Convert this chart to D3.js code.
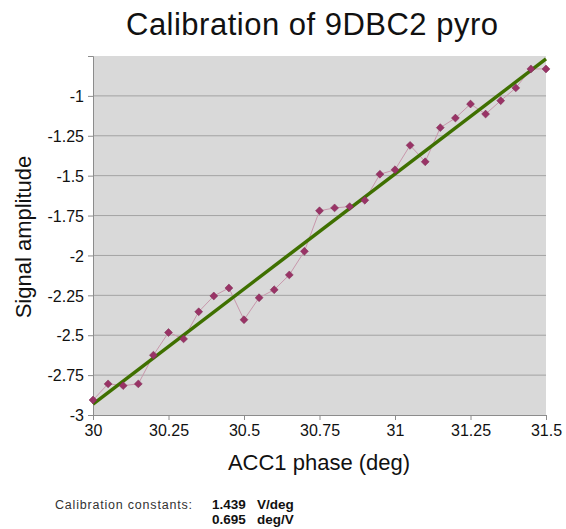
<!DOCTYPE html>
<html>
<head>
<meta charset="utf-8">
<script src="https://cdn.jsdelivr.net/npm/d3@7"></script>
<style>
  body { margin: 0; background: #fff; }
  text { font-family: "Liberation Sans", Arial, Helvetica, sans-serif; }
</style>
</head>
<body>
<svg id="chart" width="566" height="529"></svg>
<script>
// phase readings (deg) and measured signal
const phase = [30, 30.05, 30.1, 30.15, 30.2, 30.25, 30.3, 30.35, 30.4, 30.45,
  30.5, 30.55, 30.6, 30.65, 30.7, 30.75, 30.8, 30.85, 30.9, 30.95,
  31, 31.05, 31.1, 31.15, 31.2, 31.25, 31.3, 31.35, 31.4, 31.45, 31.5];
const signal = [-2.906, -2.805, -2.816, -2.805, -2.625, -2.483, -2.523, -2.353, -2.254, -2.204,
  -2.403, -2.265, -2.215, -2.122, -1.974, -1.720, -1.702, -1.694, -1.654, -1.491,
  -1.463, -1.310, -1.413, -1.199, -1.139, -1.051, -1.114, -1.030, -0.950, -0.831, -0.831];

const xTicks = [30, 30.25, 30.5, 30.75, 31, 31.25, 31.5];
const yTicks = [-3, -2.75, -2.5, -2.25, -2, -1.75, -1.5, -1.25, -1];
const constants = [["1.439", "V/deg"], ["0.695", "deg/V"]];

const svg = d3.select("#chart");
const x = d3.scaleLinear().domain([30, 31.5]).range([93, 546]);
const y = d3.scaleLinear().domain([-3, -0.75]).range([415, 56]);

// plot background
svg.append("rect")
  .attr("x", x(30)).attr("y", y(-0.75))
  .attr("width", x(31.5) - x(30)).attr("height", y(-3) - y(-0.75))
  .attr("fill", "#d9d9d9");

// gridlines
svg.append("g").selectAll("line").data(yTicks.slice(1)).join("line")
  .attr("x1", x(30)).attr("x2", x(31.5))
  .attr("y1", d => y(d)).attr("y2", d => y(d))
  .attr("stroke", "#a3a3a3").attr("stroke-width", 1);

// axes
const fmt = d => String(d);
const yAxis = svg.append("g").attr("transform", `translate(${x(30)},0)`)
  .call(d3.axisLeft(y).tickValues(yTicks).tickFormat(fmt).tickSize(5).tickPadding(4));
const xAxis = svg.append("g").attr("transform", `translate(0,${y(-3)})`)
  .call(d3.axisBottom(x).tickValues(xTicks).tickFormat(fmt).tickSize(5).tickPadding(4));
[xAxis, yAxis].forEach(a => {
  a.select(".domain").attr("stroke", "#8c8c8c");
  a.selectAll(".tick line").attr("stroke", "#8c8c8c");
  a.selectAll(".tick text").attr("fill", "#111").attr("font-size", 16)
    .style("font-family", '"Liberation Sans", Arial, sans-serif');
});
yAxis.selectAll(".tick text").attr("dy", "0.36em");
xAxis.selectAll(".tick text").attr("dy", "0.72em");

const pts = phase.map((p, i) => [p, signal[i]]);

// connecting line
svg.append("path").datum(pts)
  .attr("fill", "none").attr("stroke", "#c898ac").attr("stroke-width", 1)
  .attr("d", d3.line().x(d => x(d[0])).y(d => y(d[1])));

// least squares trend
const mx = d3.mean(phase), my = d3.mean(signal);
const slope = d3.sum(pts, d => (d[0] - mx) * (d[1] - my)) / d3.sum(pts, d => (d[0] - mx) ** 2);
const icpt = my - slope * mx;
svg.append("line")
  .attr("x1", x(30)).attr("y1", y(icpt + slope * 30))
  .attr("x2", x(31.5)).attr("y2", y(icpt + slope * 31.5))
  .attr("stroke", "#3f7000").attr("stroke-width", 3.5);

// markers
svg.append("g").selectAll("path").data(pts).join("path")
  .attr("transform", d => `translate(${x(d[0])},${y(d[1])})`)
  .attr("d", d3.symbol(d3.symbolDiamond2, 40)())
  .attr("fill", "#993366").attr("stroke", "#7a2a50").attr("stroke-width", 0.5);

// titles
svg.append("text").attr("x", 312).attr("y", 35).attr("text-anchor", "middle")
  .attr("font-size", 31).attr("fill", "#111")
  .attr("textLength", 372).attr("lengthAdjust", "spacing")
  .text("Calibration of 9DBC2 pyro");
svg.append("text").attr("x", 319).attr("y", 470).attr("text-anchor", "middle")
  .attr("font-size", 22).attr("fill", "#111").text("ACC1 phase (deg)");
svg.append("text").attr("transform", "translate(31,237) rotate(-90)")
  .attr("text-anchor", "middle").attr("font-size", 22).attr("fill", "#111")
  .text("Signal amplitude");

// calibration constants note
svg.append("text").attr("x", 55).attr("y", 509).attr("font-size", 12.5)
  .attr("fill", "#333").attr("textLength", 137).text("Calibration constants:");
const rows = svg.append("g").selectAll("g").data(constants).join("g")
  .attr("transform", (d, i) => `translate(0,${509 + i * 15})`);
rows.append("text").attr("x", 212).attr("font-size", 13.5).attr("font-weight", "bold")
  .attr("fill", "#111").text(d => d[0]);
rows.append("text").attr("x", 257).attr("font-size", 13.5).attr("font-weight", "bold")
  .attr("fill", "#111").text(d => d[1]);
</script>
</body>
</html>
